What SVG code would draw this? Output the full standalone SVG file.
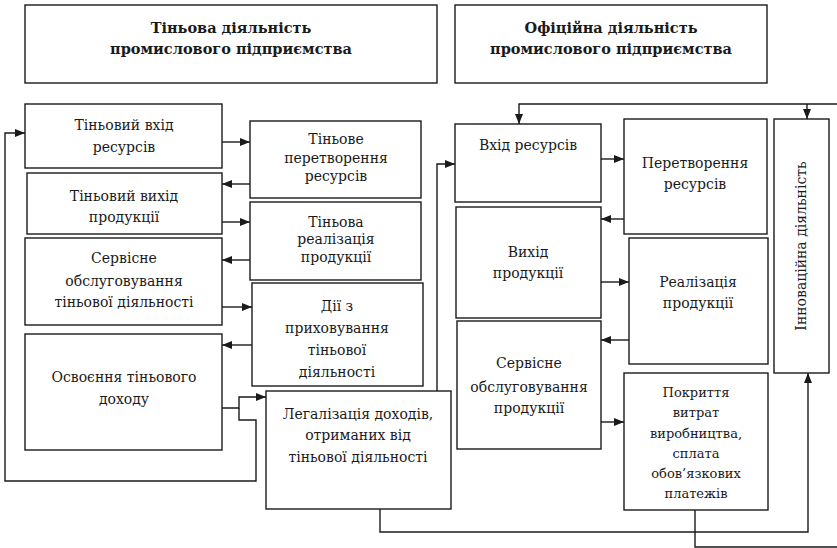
<svg xmlns="http://www.w3.org/2000/svg" width="837" height="548" viewBox="0 0 837 548">
<defs>
<style>
.box{fill:#fff;stroke:#1a1a1a;stroke-width:1.4}
.t{font-family:"DejaVu Serif","Liberation Serif",serif;font-size:14px;fill:#1a1a1a;text-anchor:middle}
.s{font-size:13px}
.h{font-family:"DejaVu Serif","Liberation Serif",serif;font-size:14.5px;font-weight:bold;fill:#1a1a1a;text-anchor:middle}
.c{fill:none;stroke:#1a1a1a;stroke-width:1.4}
</style>
<marker id="a" viewBox="0 0 10 8" refX="10" refY="4" markerWidth="10" markerHeight="8" markerUnits="userSpaceOnUse" orient="auto">
<path d="M0,0 L10,4 L0,8 Z" fill="#1a1a1a"/>
</marker>
</defs>
<rect width="837" height="548" fill="#fff"/>

<g id="hdr-left"><rect class="box" x="25" y="5" width="412" height="78"/>
<text class="h" x="231" y="33">Тіньова діяльність</text><text class="h" x="231" y="54">промислового підприємства</text></g>
<g id="hdr-right"><rect class="box" x="455" y="5" width="312" height="78"/>
<text class="h" x="611" y="33">Офіційна діяльність</text><text class="h" x="611" y="54">промислового підприємства</text></g>

<g id="n1"><rect class="box" x="25" y="104" width="197" height="64"/>
<text class="t" x="124" y="130">Тіньовий вхід</text><text class="t" x="124" y="152">ресурсів</text></g>
<g id="n2"><rect class="box" x="250" y="121" width="171" height="77"/>
<text class="t" x="336" y="144">Тіньове</text><text class="t" x="336" y="163">перетворення</text><text class="t" x="336" y="181">ресурсів</text></g>
<g id="n3"><rect class="box" x="27" y="173" width="195" height="61"/>
<text class="t" x="124" y="201">Тіньовий вихід</text><text class="t" x="124" y="222">продукції</text></g>
<g id="n4"><rect class="box" x="250" y="202" width="171" height="78"/>
<text class="t" x="336" y="227">Тіньова</text><text class="t" x="336" y="244">реалізація</text><text class="t" x="336" y="262">продукції</text></g>
<g id="n5"><rect class="box" x="25" y="238" width="197" height="87"/>
<text class="t" x="124" y="263">Сервісне</text><text class="t" x="124" y="286">обслуговування</text><text class="t" x="124" y="307">тіньової діяльності</text></g>
<g id="n6"><rect class="box" x="252" y="283" width="171" height="103"/>
<text class="t" x="337" y="311">Дії з</text><text class="t" x="337" y="333">приховування</text><text class="t" x="337" y="355">тіньової</text><text class="t" x="337" y="377">діяльності</text></g>
<g id="n7"><rect class="box" x="25" y="334" width="197" height="116"/>
<text class="t" x="124" y="382">Освоєння тіньового</text><text class="t" x="124" y="404">доходу</text></g>
<g id="n8"><rect class="box" x="266" y="391" width="185" height="118"/>
<text class="t" x="358" y="419">Легалізація доходів,</text><text class="t" x="358" y="440">отриманих від</text><text class="t" x="358" y="462">тіньової діяльності</text></g>

<g id="r1"><rect class="box" x="455" y="124" width="146" height="78"/>
<text class="t" x="528" y="150">Вхід ресурсів</text></g>
<g id="r2"><rect class="box" x="624" y="119" width="143" height="115"/>
<text class="t" x="695" y="168">Перетворення</text><text class="t" x="695" y="189">ресурсів</text></g>
<g id="r3"><rect class="box" x="456" y="207" width="145" height="111"/>
<text class="t" x="528" y="257">Вихід</text><text class="t" x="528" y="278">продукції</text></g>
<g id="r4"><rect class="box" x="629" y="238" width="139" height="126"/>
<text class="t" x="698" y="287">Реалізація</text><text class="t" x="698" y="308">продукції</text></g>
<g id="r5"><rect class="box" x="457" y="321" width="144" height="128"/>
<text class="t" x="529" y="368">Сервісне</text><text class="t" x="529" y="392">обслуговування</text><text class="t" x="529" y="413">продукції</text></g>
<g id="r6"><rect class="box" x="624" y="373" width="144" height="137"/>
<text class="t s" x="696" y="397">Покриття</text><text class="t s" x="696" y="417">витрат</text><text class="t s" x="696" y="438">виробництва,</text><text class="t s" x="696" y="458">сплата</text><text class="t s" x="696" y="478">обов’язкових</text><text class="t s" x="696" y="498">платежів</text></g>
<g id="r7"><rect class="box" x="774" y="119" width="55" height="254"/>
<text class="t" transform="translate(806,246) rotate(-90)" x="0" y="0">Інноваційна діяльність</text></g>

<g id="connectors">
<path class="c" marker-end="url(#a)" d="M222,142 H250"/>
<path class="c" marker-end="url(#a)" d="M250,184 H222"/>
<path class="c" marker-end="url(#a)" d="M222,222 H250"/>
<path class="c" marker-end="url(#a)" d="M250,260 H222"/>
<path class="c" marker-end="url(#a)" d="M222,307 H252"/>
<path class="c" marker-end="url(#a)" d="M252,345 H222"/>
<path class="c" marker-end="url(#a)" d="M222,408 H239 V397 H266"/>
<path class="c" marker-end="url(#a)" d="M239,408 V420 H256 V481 H5 V133 H25"/>
<path class="c" marker-end="url(#a)" d="M437,391 V164 H455"/>
<path class="c" marker-end="url(#a)" d="M380,509 V532 H808 V373"/>
<path class="c" d="M695,510 V547 H837"/>
<path class="c" marker-end="url(#a)" d="M837,104 H519 V124"/>
<path class="c" marker-end="url(#a)" d="M807,104 V119"/>
<path class="c" marker-end="url(#a)" d="M601,159 H624"/>
<path class="c" marker-end="url(#a)" d="M624,219 H601"/>
<path class="c" marker-end="url(#a)" d="M601,282 H629"/>
<path class="c" marker-end="url(#a)" d="M629,340 H601"/>
<path class="c" marker-end="url(#a)" d="M601,422 H624"/>
</g>
</svg>
